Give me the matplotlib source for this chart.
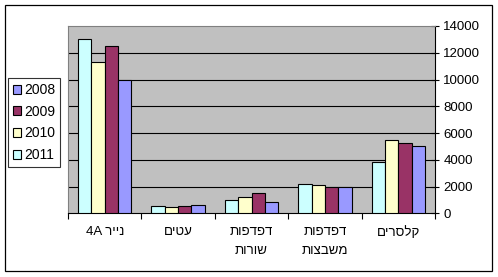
import matplotlib
matplotlib.use("Agg")
import matplotlib.pyplot as plt
import numpy as np
from matplotlib.patches import Rectangle

# Hebrew labels are stored in visual (left-to-right) order for display
categories = ["4A ריינ", "םיטע", "תופדפד\nתורוש", "תופדפד\nתוצבשמ", "םירסלק"]
years = ["2011", "2010", "2009", "2008"]
v2011 = [13000, 550, 1000, 2200, 3800]
v2010 = [11300, 450, 1200, 2100, 5450]
v2009 = [12500, 550, 1500, 2000, 5250]
v2008 = [10000, 620, 850, 2000, 5000]
series = [v2011, v2010, v2009, v2008]
colors = ["#CCFFFF", "#FFFFCC", "#993366", "#9999FF"]
yticks = [0, 2000, 4000, 6000, 8000, 10000, 12000, 14000]

plt.rcParams['font.family'] = ['Liberation Sans', 'DejaVu Sans']

W, H = 498, 277
fig = plt.figure(figsize=(W / 100, H / 100), dpi=100)
fig.patch.set_facecolor("white")

# outer frame
fig.patches.append(Rectangle((5 / W, 1 - 271 / H), (492 - 5) / W, (271 - 5) / H,
                             transform=fig.transFigure, fill=False,
                             edgecolor="black", linewidth=0.9))

l, r, t, b = 68, 435, 26, 213.3
ax = fig.add_axes([l / W, 1 - b / H, (r - l) / W, (b - t) / H])
ax.set_facecolor("#C0C0C0")

x = np.arange(len(categories))
w = 1 / 5.5
for i, (vals, c) in enumerate(zip(series, colors)):
    ax.bar(x + (i - 1.5) * w, vals, width=w, color=c, edgecolor="black",
           linewidth=0.8, zorder=3, label=years[i])

ax.set_xlim(-0.5, len(categories) - 0.5)
ax.set_ylim(0, 14000)
ax.set_yticks(yticks)
ax.set_yticklabels([str(v) for v in yticks], fontsize=9.5)
ax.yaxis.tick_right()
ax.tick_params(axis="y", direction="inout", length=6, width=0.8, pad=3)
for yv in yticks[1:-1]:
    ax.axhline(yv, color="black", linewidth=0.8, zorder=1)

ax.set_xticks(np.arange(len(categories) + 1) - 0.5, minor=False)
ax.set_xticklabels([])
ax.tick_params(axis="x", direction="out", length=4, width=0.8)
for xi, lab in zip(x, categories):
    ax.text(xi, -0.07, lab, transform=ax.get_xaxis_transform(), ha="center",
            va="top", fontsize=9.5, linespacing=1.7)

for s in ["left", "top"]:
    ax.spines[s].set_color("#808080")
    ax.spines[s].set_linewidth(0.8)
ax.spines["right"].set_color("black")
ax.spines["bottom"].set_color("black")
ax.spines["right"].set_linewidth(0.8)
ax.spines["bottom"].set_linewidth(0.8)

handles, labels = ax.get_legend_handles_labels()
order = [3, 2, 1, 0]
leg = fig.legend([handles[k] for k in order], [labels[k] for k in order],
                 loc="upper left", bbox_to_anchor=(8.3 / W, 1 - 78.3 / H),
                 fontsize=10, frameon=True, fancybox=False, handlelength=0.6,
                 handleheight=0.6, handletextpad=0.2, labelspacing=0.55,
                 borderpad=0.35, borderaxespad=0)
leg.get_frame().set_edgecolor("black")
leg.get_frame().set_linewidth(0.8)

fig.savefig("out.png", dpi=100)
